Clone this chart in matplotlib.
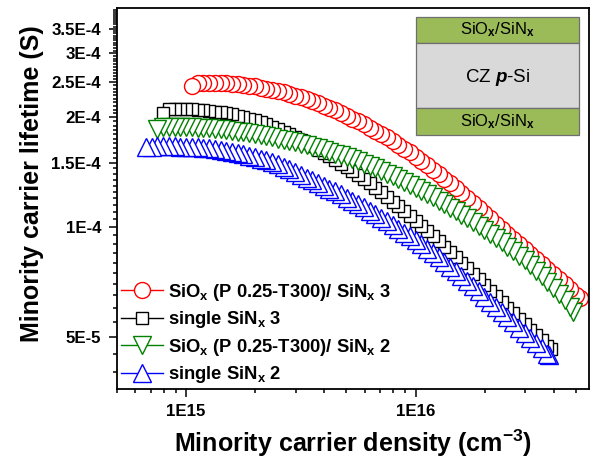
import numpy as np
import matplotlib
matplotlib.use("Agg")
import matplotlib.pyplot as plt
from matplotlib.ticker import FixedLocator, FixedFormatter, LogLocator, NullFormatter
from matplotlib.patches import Rectangle

plt.rcParams['font.family'] = ['Liberation Sans', 'DejaVu Sans']
plt.rcParams['font.weight'] = 'bold'
plt.rcParams['mathtext.fontset'] = 'custom'
plt.rcParams['mathtext.rm'] = 'Liberation Sans:bold'
plt.rcParams['mathtext.bf'] = 'Liberation Sans:bold'
plt.rcParams['mathtext.it'] = 'Liberation Sans:bold:italic'
plt.rcParams['mathtext.sf'] = 'Liberation Sans'

# ---------------- data (density in 1E15 cm^-3, lifetime in 1E-4 s) ----------------
red_n = [1.059, 1.122, 1.189, 1.259, 1.334, 1.413, 1.496, 1.585, 1.679, 1.778,
         1.884, 1.995, 2.113, 2.239, 2.371, 2.512, 2.661, 2.818, 2.985, 3.162,
         3.350, 3.548, 3.758, 3.981, 4.217, 4.467, 4.732, 5.012, 5.309, 5.623,
         5.957, 6.310, 6.683, 7.079, 7.499, 7.943, 8.414, 8.913, 9.441, 10.00,
         10.59, 11.22, 11.89, 12.59, 13.34, 14.13, 14.96, 15.85, 16.79, 17.78,
         18.84, 19.95, 21.13, 22.39, 23.71, 25.12, 26.61, 28.18, 29.85, 31.62,
         33.50, 35.48, 37.58, 39.81, 42.17, 44.67, 47.32, 50.12, 51.88]
red_tau = [2.438, 2.478, 2.483, 2.489, 2.489, 2.483, 2.483, 2.472, 2.466, 2.455,
           2.443, 2.432, 2.415, 2.399, 2.382, 2.360, 2.344, 2.317, 2.296, 2.270,
           2.244, 2.213, 2.188, 2.153, 2.123, 2.089, 2.056, 2.023, 1.986, 1.950,
           1.914, 1.875, 1.841, 1.799, 1.762, 1.722, 1.683, 1.641, 1.603, 1.560,
           1.521, 1.479, 1.439, 1.400, 1.358, 1.318, 1.279, 1.239, 1.202, 1.164,
           1.127, 1.091, 1.057, 1.023, 0.991, 0.959, 0.929, 0.899, 0.871, 0.843,
           0.817, 0.793, 0.767, 0.743, 0.719, 0.697, 0.675, 0.653, 0.641]

black_n = [0.794, 0.841, 0.891, 0.944, 1.000, 1.059, 1.122, 1.189, 1.259, 1.334,
           1.413, 1.496, 1.585, 1.679, 1.778, 1.884, 1.995, 2.113, 2.239, 2.371,
           2.512, 2.661, 2.818, 2.985, 3.162, 3.350, 3.548, 3.758, 3.981, 4.217,
           4.467, 4.732, 5.012, 5.309, 5.623, 5.957, 6.310, 6.683, 7.079, 7.499,
           7.943, 8.414, 8.913, 9.441, 10.00, 10.59, 11.22, 11.89, 12.59, 13.34,
           14.13, 14.96, 15.85, 16.79, 17.78, 18.84, 19.95, 21.13, 22.39, 23.71,
           25.12, 26.61, 28.18, 29.85, 31.62, 33.50, 35.48, 37.58, 38.90]
black_tau = [2.056, 2.104, 2.109, 2.109, 2.109, 2.104, 2.099, 2.094, 2.084, 2.075,
             2.065, 2.051, 2.037, 2.023, 2.004, 1.986, 1.963, 1.941, 1.914, 1.888,
             1.858, 1.828, 1.799, 1.766, 1.734, 1.702, 1.667, 1.633, 1.600, 1.563,
             1.528, 1.493, 1.459, 1.426, 1.390, 1.355, 1.321, 1.282, 1.247, 1.211,
             1.175, 1.140, 1.107, 1.072, 1.040, 1.007, 0.975, 0.944, 0.914, 0.885,
             0.855, 0.826, 0.798, 0.771, 0.745, 0.719, 0.695, 0.670, 0.647, 0.624,
             0.601, 0.581, 0.561, 0.542, 0.524, 0.506, 0.489, 0.472, 0.463]

green_n = [0.750, 0.794, 0.841, 0.891, 0.944, 1.000, 1.059, 1.122, 1.189, 1.259,
           1.334, 1.413, 1.496, 1.585, 1.679, 1.778, 1.884, 1.995, 2.113, 2.239,
           2.371, 2.512, 2.661, 2.818, 2.985, 3.162, 3.350, 3.548, 3.758, 3.981,
           4.217, 4.467, 4.732, 5.012, 5.309, 5.623, 5.957, 6.310, 6.683, 7.079,
           7.499, 7.943, 8.414, 8.913, 9.441, 10.00, 10.59, 11.22, 11.89, 12.59,
           13.34, 14.13, 14.96, 15.85, 16.79, 17.78, 18.84, 19.95, 21.13, 22.39,
           23.71, 25.12, 26.61, 28.18, 29.85, 31.62, 33.50, 35.48, 37.58, 39.81,
           42.17, 44.67, 47.32, 48.42]
green_tau = [1.858, 1.879, 1.884, 1.884, 1.884, 1.879, 1.879, 1.875, 1.871, 1.866,
             1.858, 1.854, 1.845, 1.837, 1.828, 1.820, 1.807, 1.799, 1.786, 1.774,
             1.762, 1.750, 1.738, 1.722, 1.710, 1.694, 1.679, 1.663, 1.644, 1.629,
             1.611, 1.592, 1.574, 1.556, 1.535, 1.514, 1.493, 1.472, 1.449, 1.426,
             1.403, 1.380, 1.355, 1.330, 1.306, 1.282, 1.259, 1.233, 1.208, 1.183,
             1.159, 1.132, 1.107, 1.081, 1.057, 1.033, 1.007, 0.982, 0.957, 0.933,
             0.908, 0.883, 0.859, 0.836, 0.811, 0.787, 0.760, 0.734, 0.708, 0.682,
             0.656, 0.631, 0.605, 0.586]

blue_n = [0.668, 0.708, 0.750, 0.794, 0.841, 0.891, 0.944, 1.000, 1.059, 1.122,
          1.189, 1.259, 1.334, 1.413, 1.496, 1.585, 1.679, 1.778, 1.884, 1.995,
          2.113, 2.239, 2.371, 2.512, 2.661, 2.818, 2.985, 3.162, 3.350, 3.548,
          3.758, 3.981, 4.217, 4.467, 4.732, 5.012, 5.309, 5.623, 5.957, 6.310,
          6.683, 7.079, 7.499, 7.943, 8.414, 8.913, 9.441, 10.00, 10.59, 11.22,
          11.89, 12.59, 13.34, 14.13, 14.96, 15.85, 16.79, 17.78, 18.84, 19.95,
          21.13, 22.39, 23.71, 25.12, 26.61, 28.18, 29.85, 31.62, 33.50, 35.48,
          37.58, 38.02]
blue_tau = [1.656, 1.663, 1.667, 1.667, 1.667, 1.667, 1.663, 1.663, 1.660, 1.656,
            1.648, 1.644, 1.637, 1.629, 1.618, 1.607, 1.596, 1.585, 1.570, 1.556,
            1.542, 1.524, 1.507, 1.489, 1.466, 1.442, 1.416, 1.393, 1.368, 1.346,
            1.324, 1.300, 1.276, 1.253, 1.230, 1.205, 1.183, 1.159, 1.135, 1.109,
            1.086, 1.062, 1.040, 1.014, 0.991, 0.966, 0.944, 0.920, 0.897, 0.873,
            0.849, 0.826, 0.804, 0.780, 0.757, 0.733, 0.711, 0.689, 0.667, 0.644,
            0.624, 0.604, 0.585, 0.566, 0.548, 0.530, 0.513, 0.497, 0.480, 0.465,
            0.449, 0.446]

series_labels = [r'SiO$_\mathrm{x}$ (P 0.25-T300)/ SiN$_\mathrm{x}$ 3',
                 r'single SiN$_\mathrm{x}$ 3',
                 r'SiO$_\mathrm{x}$ (P 0.25-T300)/ SiN$_\mathrm{x}$ 2',
                 r'single SiN$_\mathrm{x}$ 2']

x_ticks = [1e15, 1e16]
x_tick_labels = ['1E15', '1E16']
y_ticks = [5e-5, 1e-4, 1.5e-4, 2e-4, 2.5e-4, 3e-4, 3.5e-4]
y_tick_labels = ['5E-5', '1E-4', '1.5E-4', '2E-4', '2.5E-4', '3E-4', '3.5E-4']

# ---------------- figure ----------------
W, H = 592, 459
fig = plt.figure(figsize=(W / 100, H / 100), dpi=100)
L, R, T, B = 117, 589, 8, 389
ax = fig.add_axes([L / W, 1 - B / H, (R - L) / W, (B - T) / H])

styles = [
    (red_n, red_tau, 'o', '#ff0000', 11.5),
    (black_n, black_tau, 's', '#000000', 8.0),
    (green_n, green_tau, 'v', '#008000', 13.0),
    (blue_n, blue_tau, '^', '#0000ff', 13.0),
]
for (n, t, m, c, ms), lab in zip(styles, series_labels):
    xs = np.array(n[::-1]) * 1e15
    ys = np.array(t[::-1]) * 1e-4
    ax.plot(xs, ys, marker=m, color=c, mfc='white', mec=c, ms=ms, mew=1.0,
            lw=1.0, label=lab)

ax.set_xscale('log')
ax.set_yscale('log')
ax.set_xlim(5e14, 5.7e16)
ax.set_ylim(3.6e-5, 3.99e-4)

ax.xaxis.set_major_locator(FixedLocator(x_ticks))
ax.xaxis.set_major_formatter(FixedFormatter(x_tick_labels))
ax.xaxis.set_minor_locator(LogLocator(base=10, subs=np.arange(2, 10)))
ax.xaxis.set_minor_formatter(NullFormatter())

ax.yaxis.set_major_locator(FixedLocator(y_ticks))
ax.yaxis.set_major_formatter(FixedFormatter(y_tick_labels))
ax.yaxis.set_minor_locator(FixedLocator([k * 1e-6 for k in range(40, 400, 5) if k % 50 != 0]))
ax.yaxis.set_minor_formatter(NullFormatter())

ax.tick_params(which='both', direction='out', top=False, right=False, width=1.1)
ax.tick_params(which='major', length=6, labelsize=12.2)
ax.tick_params(axis='y', which='major', pad=5.5)
ax.tick_params(axis='x', which='major', pad=5.0)
ax.tick_params(which='minor', length=3)
for lbl in ax.get_xticklabels() + ax.get_yticklabels():
    lbl.set_fontweight('bold')
for s in ax.spines.values():
    s.set_linewidth(1.3)

ax.set_xlabel(r'Minority carrier density (cm$^\mathrm{-3}$)', fontsize=18, fontweight='bold', va='center')
ax.xaxis.set_label_coords(0.5, -0.142)
ax.set_ylabel('Minority carrier lifetime (S)', fontsize=18, fontweight='bold',
              va='center', ha='center', rotation_mode='anchor')
ax.yaxis.set_label_coords(-0.18, 0.54)

ax.legend(loc='upper left', bbox_to_anchor=(0.008, 0.282), frameon=False,
          prop={'size': 13.2, 'weight': 'bold'}, handlelength=2.3,
          handletextpad=0.3, labelspacing=0.36, borderpad=0, borderaxespad=0,
          numpoints=1)

# ---------------- inset schematic ----------------
def layer(y_top, y_bot, color):
    r = Rectangle((416 / W, 1 - y_bot / H), (579 - 416) / W, (y_bot - y_top) / H,
                  transform=fig.transFigure, facecolor=color, edgecolor='#6f6f6f',
                  lw=0.9, zorder=5)
    fig.add_artist(r)

layer(17, 43, '#9bbb59')
layer(43, 108, '#d9d9d9')
layer(108, 135, '#9bbb59')
cx = 497.5 / W
fig.text(cx, 1 - 30 / H, r'SiO$_\mathsf{x}$/SiN$_\mathsf{x}$', ha='center', va='center',
         fontsize=12, fontweight='normal', zorder=6)
fig.text(cx, 1 - 77 / H, r'CZ $p$-Si', ha='center', va='center',
         fontsize=13.5, fontweight='normal', zorder=6)
fig.text(cx, 1 - 122 / H, r'SiO$_\mathsf{x}$/SiN$_\mathsf{x}$', ha='center', va='center',
         fontsize=12, fontweight='normal', zorder=6)

fig.savefig('out.png', dpi=100)
